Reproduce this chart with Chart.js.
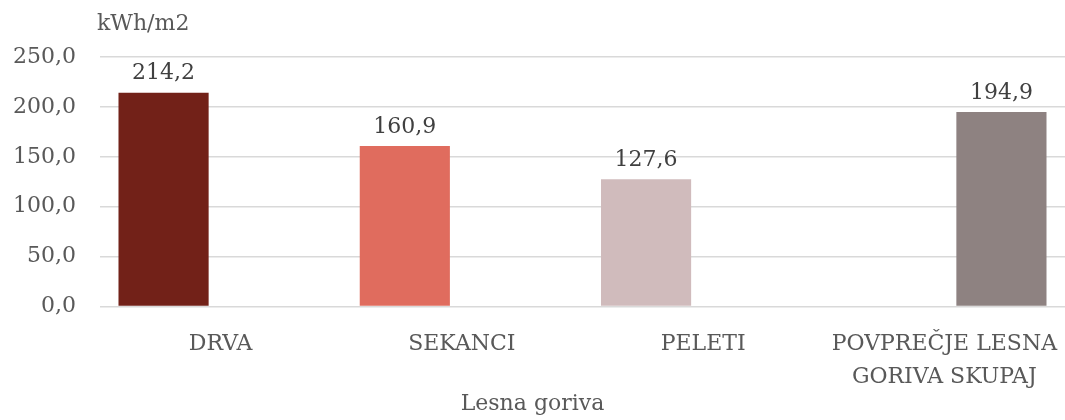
<!DOCTYPE html>
<html>
<head>
<meta charset="utf-8">
<script src="https://cdn.jsdelivr.net/npm/chart.js@4"></script>
<style>
  html, body { margin: 0; padding: 0; background: #fff; }
  #wrap { width: 1065px; height: 420px; }
</style>
</head>
<body>
<div id="wrap"><canvas id="chart"></canvas></div>
<script>
// Data
const categories = ["DRVA", "SEKANCI", "PELETI", ["POVPREČJE LESNA", "GORIVA SKUPAJ"]];
const fuelValues = [214.2, 160.9, 127.6, null];
const averageValues = [null, null, null, 194.9];
const fuelColors = ["#722118", "#E06C5E", "#D0BBBC", "#8E8281"];
const yTicks = [0, 50, 100, 150, 200, 250];

const FONT = "'DejaVu Serif', serif";
const TEXT = "#595959";

const fmt = v => v.toFixed(1).replace(".", ",");

// value labels above bars + y unit label
const labelsPlugin = {
  id: "labels",
  afterDatasetsDraw(chart) {
    const c = chart.ctx;
    c.save();
    c.font = "22px " + FONT;
    c.fillStyle = "#404040";
    c.textAlign = "center";
    c.textBaseline = "bottom";
    chart.data.datasets.forEach((ds, i) => {
      chart.getDatasetMeta(i).data.forEach((bar, j) => {
        if (ds.data[j] == null) return;
        c.fillText(fmt(ds.data[j]), bar.x, bar.y - 8);
      });
    });
    c.fillStyle = TEXT;
    c.textAlign = "left";
    c.textBaseline = "middle";
    c.fillText("kWh/m2", chart.chartArea.left - 3, 24);
    c.restore();
  }
};

new Chart(document.getElementById("chart"), {
  type: "bar",
  data: {
    labels: categories,
    datasets: [{
      label: "Goriva",
      data: fuelValues,
      backgroundColor: fuelColors.slice(0, 3)
    }, {
      label: "Povprečje",
      data: averageValues,
      backgroundColor: fuelColors
    }]
  },
  options: {
    responsive: true,
    maintainAspectRatio: false,
    animation: false,
    layout: { padding: { top: 57, right: 0, left: 0, bottom: 0 } },
    datasets: { bar: { barPercentage: 0.79, categoryPercentage: 0.946 } },
    plugins: {
      legend: { display: false },
      tooltip: { enabled: false },
      title: {
        display: true,
        text: "Lesna goriva",
        position: "bottom",
        color: TEXT,
        font: { family: FONT, size: 22, weight: "normal", lineHeight: 1.2 },
        padding: { top: 0, bottom: 3 }
      }
    },
    scales: {
      x: {
        grid: { display: false },
        border: { display: false },
        ticks: {
          color: TEXT,
          font: { family: FONT, size: 22, lineHeight: 1.5 },
          padding: 13,
          maxRotation: 0,
          autoSkip: false
        },
        afterFit: s => { s.height = 84; s.paddingLeft = 0; s.paddingRight = 0; }
      },
      y: {
        min: 0,
        max: 250,
        afterBuildTicks: s => { s.ticks = yTicks.map(v => ({ value: v })); },
        grid: { color: "#d9d9d9", lineWidth: 1.5, drawTicks: false },
        border: { display: false },
        ticks: {
          color: TEXT,
          font: { family: FONT, size: 22 },
          padding: 24,
          callback: v => fmt(v)
        },
        afterFit: s => { s.width = 100; }
      }
    }
  },
  plugins: [labelsPlugin]
});
</script>
</body>
</html>
